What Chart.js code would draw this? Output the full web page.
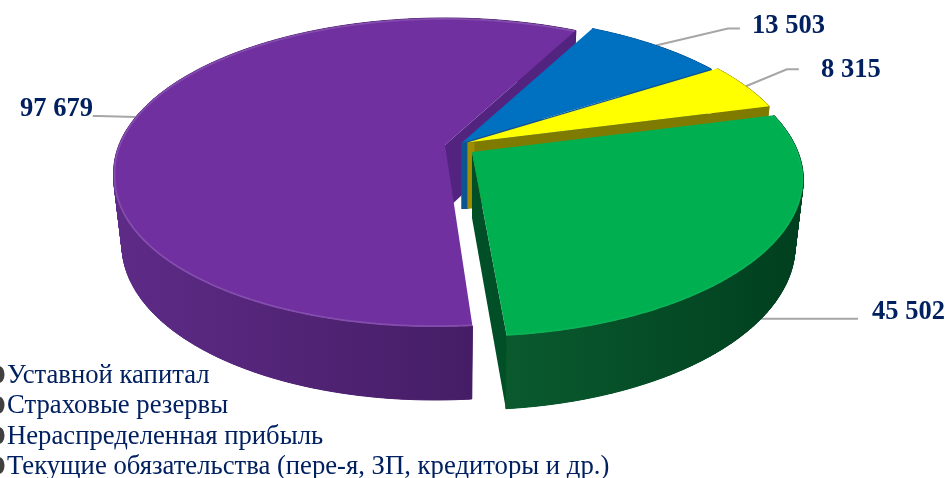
<!DOCTYPE html>
<html lang="ru">
<head>
<meta charset="utf-8">
<title>Структура пассивов</title>
<script src="https://cdn.jsdelivr.net/npm/chart.js@4"></script>
<style>
    html, body { margin: 0; padding: 0; background: #fff; }
    canvas { display: block; }
</style>
</head>
<body>
<canvas id="pie" width="948" height="478"></canvas>
<script>
const categories = [
    'Уставной капитал',
    'Страховые резервы',
    'Нераспределенная прибыль',
    'Текущие обязательства (пере-я, ЗП, кредиторы и др.)'
];
const values = [13503, 8315, 45502, 97679];
const topColors = ['#0070c0', '#ffff00', '#00b050', '#7030a0'];
const sideColors = ['#0b5592', '#7f7a00', '#004f27', '#522480'];
const wallLeft = ['#0b5592', '#a08c00', '#0a5a2e', '#5e2b87'];
const wallRight = ['#0a4a80', '#8a7a00', '#003f1f', '#3e195c'];
const lipAlpha = [0, 0, 0.04, 0.14];

// how far each slice is pulled out of the pie, px
const explodeX = [16.5, 22.5, 27, 0];
const explodeY = [-2, -2.5, 7, 0];
const stretchY = [1, 1, 1.015, 1];
const shearX = [0, 0, 0.018, 0.066];
// leader line: elbow and end relative to the rim point, then the label
const elbowX = [72, 41, 0, -37];
const elbowY = [-17, -17, 0, -1];
const lineEndX = [84, 53, 97, -43];
const lineEndY = [-17, -17, 0, -1];
const labelX = [752, 821, 872, 20];
const labelY = [33, 77, 319, 116];
const drawOrder = [3, 0, 1, 2];

// view of the tilted disc
const originX = 445, originY = 145;
const radiusX = 326, radiusY = 149.6, perspective = 0.178;
const legendY = [382.5, 413, 443.5, 473.5];

function project(i, angle, r) {
    const u = Math.cos(angle) * r, v = Math.sin(angle) * r;
    const s = 1 / (1 - perspective * v);
    const y = radiusY * v * s;
    return { x: radiusX * u * s - shearX[i] * Math.max(y - 30, 0), y: y * stretchY[i], v: v };
}

function thickness(v) {
    return 66 + 7 * v;
}

function topPoint(i, angle, r) {
    const p = project(i, angle, r);
    return { x: originX + explodeX[i] + p.x, y: originY + explodeY[i] + p.y };
}

function bottomPoint(i, angle, r) {
    const p = project(i, angle, r);
    return {
        x: originX + explodeX[i] + p.x * 0.975,
        y: originY + explodeY[i] + p.y + thickness(p.v)
    };
}

function fillPoints(ctx, pts, style) {
    ctx.beginPath();
    pts.forEach((p, n) => n ? ctx.lineTo(p.x, p.y) : ctx.moveTo(p.x, p.y));
    ctx.closePath();
    ctx.fillStyle = style;
    ctx.fill();
}

function rimAngles(arc) {
    const list = [];
    const steps = Math.ceil((arc.endAngle - arc.startAngle) / 0.01);
    for (let n = 0; n <= steps; n++) {
        list.push(arc.startAngle + (arc.endAngle - arc.startAngle) * n / steps);
    }
    return list;
}

function drawSlice(ctx, arc, i) {
    const angles = rimAngles(arc);
    const rimTop = angles.map(a => topPoint(i, a, 1));
    const rimBottom = angles.map(a => bottomPoint(i, a, 1));

    // outer wall: whole band first, then strips so the silhouette at the sides stays filled
    const xs = rimTop.map(p => p.x);
    const grad = ctx.createLinearGradient(Math.min(...xs), 0, Math.max(...xs), 0);
    grad.addColorStop(0, wallLeft[i]);
    grad.addColorStop(1, wallRight[i]);
    fillPoints(ctx, rimTop.concat(rimBottom.slice().reverse()), grad);
    ctx.save();
    ctx.strokeStyle = grad;
    ctx.lineWidth = 1;
    for (let n = 1; n < rimTop.length; n++) {
        fillPoints(ctx, [rimTop[n - 1], rimTop[n], rimBottom[n], rimBottom[n - 1]], grad);
        ctx.stroke();
    }
    ctx.restore();

    // cut wall at the end of the slice
    const end = arc.endAngle;
    fillPoints(ctx, [
        topPoint(i, end, 0), topPoint(i, end, 1),
        bottomPoint(i, end, 1), bottomPoint(i, end, 0)
    ], sideColors[i]);
    // the part of the blue and yellow cut walls seen at the centre
    if (i < 2) {
        const a = topPoint(i, end, 0), b = bottomPoint(i, end, 0);
        fillPoints(ctx, [a, { x: a.x + 7, y: a.y }, { x: b.x + 7, y: b.y }, b], wallLeft[i]);
    }

    // top face with a soft rim
    const face = [topPoint(i, arc.startAngle, 0)].concat(rimTop);
    fillPoints(ctx, face, topColors[i]);

    if (lipAlpha[i] > 0) {
        ctx.save();
        ctx.clip();
        ctx.beginPath();
        rimTop.forEach((p, n) => n ? ctx.lineTo(p.x, p.y) : ctx.moveTo(p.x, p.y));
        ctx.strokeStyle = `rgba(255,255,255,${lipAlpha[i]})`;
        ctx.lineWidth = 3.5;
        ctx.stroke();
        ctx.restore();
    }
}

function formatValue(v) {
    return String(v).replace(/\B(?=(\d{3})+$)/g, ' ');
}

const pie3d = {
    id: 'pie3d',
    beforeDatasetDraw(chart) {
        // the library works out the slice angles, they are painted here in perspective
        const ctx = chart.ctx;
        const arcs = chart.getDatasetMeta(0).data;

        // leader lines go under the slices
        ctx.save();
        ctx.strokeStyle = '#a6a6a6';
        ctx.lineWidth = 2;
        arcs.forEach((arc, i) => {
            const mid = (arc.startAngle + arc.endAngle) / 2;
            const p = i === 2 ? bottomPoint(i, mid, 1) : topPoint(i, mid, 1);
            ctx.beginPath();
            ctx.moveTo(p.x, p.y);
            ctx.lineTo(p.x + elbowX[i], p.y + elbowY[i]);
            ctx.lineTo(p.x + lineEndX[i], p.y + lineEndY[i]);
            ctx.stroke();
        });
        ctx.restore();

        drawOrder.forEach(i => drawSlice(ctx, arcs[i], i));

        ctx.save();
        ctx.fillStyle = '#002060';
        ctx.font = 'bold 26.5px "Liberation Serif"';
        ctx.textAlign = 'left';
        ctx.textBaseline = 'alphabetic';
        values.forEach((v, i) => ctx.fillText(formatValue(v), labelX[i], labelY[i]));

        ctx.font = '26.7px "Liberation Serif"';
        categories.forEach((name, i) => {
            const y = legendY[i];
            ctx.fillStyle = '#404040';
            ctx.beginPath();
            ctx.ellipse(-1, y - 8, 5.5, 8.5, 0, 0, Math.PI * 2);
            ctx.fill();
            ctx.fillStyle = '#002060';
            ctx.fillText(name, 7, y);
        });
        ctx.restore();
        return false;
    }
};

new Chart(document.getElementById('pie'), {
    type: 'pie',
    data: {
        labels: categories,
        datasets: [{ data: values, backgroundColor: topColors, borderWidth: 0 }]
    },
    options: {
        responsive: false,
        animation: false,
        rotation: 27.7,
        plugins: {
            legend: { display: false },
            tooltip: { enabled: false }
        }
    },
    plugins: [pie3d]
});
</script>
</body>
</html>
